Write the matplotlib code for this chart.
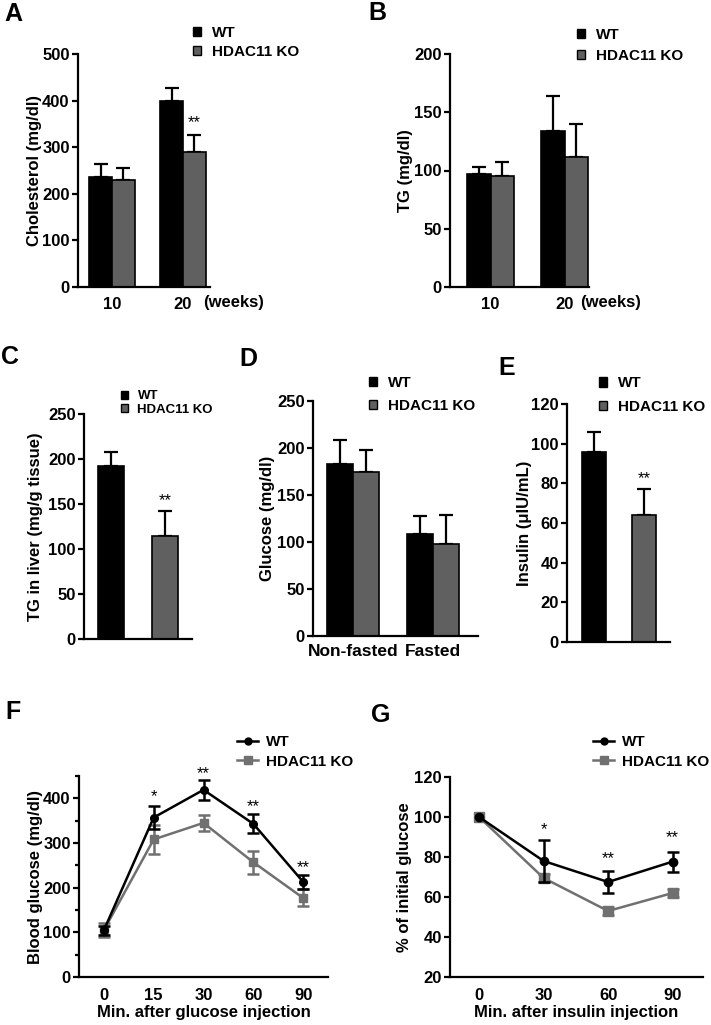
import matplotlib
matplotlib.use('Agg')
import numpy as np
import matplotlib.pyplot as plt
from matplotlib.patches import Patch
from matplotlib.lines import Line2D
from matplotlib.ticker import MultipleLocator

plt.rcParams['font.family'] = ['Liberation Sans', 'DejaVu Sans']
plt.rcParams['font.weight'] = 'bold'

# ---------------- data ----------------
series = ['WT', 'HDAC11 KO']
weeks = ['10', '20']
chol_wt = [236, 400]
chol_wt_err = [28, 28]
chol_ko = [230, 290]
chol_ko_err = [26, 37]

tg_wt = [97, 134]
tg_wt_err = [6, 30]
tg_ko = [95, 112]
tg_ko_err = [12, 28]

liver_tg = [192, 115]
liver_tg_err = [16, 27]

glucose_groups = ['Non-fasted', 'Fasted']
glu_wt = [183, 109]
glu_wt_err = [25, 19]
glu_ko = [174, 98]
glu_ko_err = [24, 31]

insulin = [96, 64]
insulin_err = [10, 13]

gtt_times = ['0', '15', '30', '60', '90']
gtt_wt = [105, 357, 419, 343, 213]
gtt_wt_err = [10, 26, 23, 21, 16]
gtt_ko = [105, 308, 345, 257, 177]
gtt_ko_err = [15, 32, 18, 26, 19]
gtt_stars = ['', '*', '**', '**', '**']
gtt_star_y = [0, 416, 469, 395, 259]

itt_times = ['0', '30', '60', '90']
itt_wt = [100, 78, 67.5, 77.7]
itt_wt_err = [0, 10.5, 5.5, 5]
itt_ko = [100, 69.5, 53, 62]
itt_ko_err = [0, 2, 2, 2]
itt_stars = ['', '*', '**', '**']
itt_star_y = [0, 96.6, 82.3, 92.8]

WT_C = 'black'
KO_BAR = '#606060'
KO_LINE = '#707070'

W, H = 711, 1025
fig = plt.figure(figsize=(W / 100, H / 100), dpi=100)


def add_ax(left, top, right, bottom):
    return fig.add_axes([left / W, 1 - bottom / H, (right - left) / W, (bottom - top) / H])


def style(ax):
    for s in ['top', 'right']:
        ax.spines[s].set_visible(False)
    for s in ['left', 'bottom']:
        ax.spines[s].set_linewidth(1.6)
    ax.tick_params(axis='y', width=1.6, length=4.5, labelsize=12, pad=1.5)
    ax.tick_params(axis='x', length=0, labelsize=12, pad=7)
    ax.patch.set_alpha(0)


def star(ax, x, y, s):
    ax.annotate(s, xy=(x, y), xytext=(0, -7.5), textcoords='offset points',
                ha='center', va='baseline', fontsize=12, fontweight='normal',
                annotation_clip=False)


def bar_legend(x_px, yc_px, fs=11, spacing=0.3):
    h = [Patch(facecolor=WT_C, edgecolor='black', linewidth=1.0),
         Patch(facecolor=KO_BAR, edgecolor='black', linewidth=1.0)]
    fig.legend(h, series, loc='center left', bbox_to_anchor=(x_px / W, 1 - yc_px / H),
               frameon=False, borderpad=0, borderaxespad=0,
               handlelength=0.55, handleheight=0.55, handletextpad=0.7,
               labelspacing=spacing, prop={'weight': 'bold', 'size': fs})


def line_legend(x_px, yc_px, spacing=0.35):
    h = [Line2D([], [], color=WT_C, marker='o', markersize=5, lw=1.8),
         Line2D([], [], color=KO_LINE, marker='s', markersize=5.5, lw=1.8)]
    fig.legend(h, series, loc='center left', bbox_to_anchor=(x_px / W, 1 - yc_px / H),
               frameon=False, borderpad=0, borderaxespad=0,
               handlelength=1.4, handletextpad=0.5, labelspacing=spacing,
               prop={'weight': 'bold', 'size': 11})


def letter(x_px, y_px, s):
    fig.text(x_px / W, 1 - y_px / H, s, fontsize=18, fontweight='bold', ha='center', va='center')


def grouped_bars(ax, wt, wt_err, ko, ko_err, w):
    x = np.arange(len(wt))
    ax.bar(x - w / 2, wt, w, color=WT_C, edgecolor='black', linewidth=1.2, zorder=2)
    ax.bar(x + w / 2, ko, w, color=KO_BAR, edgecolor='black', linewidth=1.2, zorder=2)
    ax.errorbar(x - w / 2, wt, yerr=[np.zeros(len(wt)), wt_err], fmt='none', ecolor='black',
                elinewidth=1.6, capsize=5, capthick=1.6, zorder=1)
    ax.errorbar(x + w / 2, ko, yerr=[np.zeros(len(ko)), ko_err], fmt='none', ecolor='black',
                elinewidth=1.6, capsize=5, capthick=1.6, zorder=1)
    return x


# ---------------- A ----------------
ax = add_ax(78, 54, 210, 287)
style(ax)
w = 0.32
x = grouped_bars(ax, chol_wt, chol_wt_err, chol_ko, chol_ko_err, w)
ax.set_xlim(-0.48, 1.38)
ax.set_ylim(0, 500)
ax.yaxis.set_major_locator(MultipleLocator(100))
ax.set_xticks(x)
ax.set_xticklabels(weeks)
ax.set_ylabel('Cholesterol (mg/dl)', fontsize=12, fontweight='bold')
ax.yaxis.set_label_coords(-0.275, 0.5)
star(ax, 1 + w / 2, 366, '**')
fig.text(203 / W, 1 - 303 / H, '(weeks)', fontsize=12, fontweight='bold', ha='left', va='center')
bar_legend(193, 42.5, spacing=0.3)
letter(13, 14, 'A')

# ---------------- B ----------------
ax = add_ax(450, 54, 589, 287)
style(ax)
x = grouped_bars(ax, tg_wt, tg_wt_err, tg_ko, tg_ko_err, w)
ax.set_xlim(-0.55, 1.33)
ax.set_ylim(0, 200)
ax.yaxis.set_major_locator(MultipleLocator(50))
ax.set_xticks(x)
ax.set_xticklabels(weeks)
ax.set_ylabel('TG (mg/dl)', fontsize=12, fontweight='bold')
ax.yaxis.set_label_coords(-0.265, 0.5)
fig.text(580 / W, 1 - 303 / H, '(weeks)', fontsize=12, fontweight='bold', ha='left', va='center')
bar_legend(577, 45.5, spacing=0.45)
letter(377, 13, 'B')

# ---------------- C ----------------
ax = add_ax(84, 414, 192, 639)
style(ax)
xc = np.arange(2)
ax.bar(xc, liver_tg, 0.48, color=[WT_C, KO_BAR], edgecolor='black', linewidth=1.2, zorder=2)
ax.errorbar(xc, liver_tg, yerr=[np.zeros(2), liver_tg_err], fmt='none', ecolor='black',
            elinewidth=1.6, capsize=5, capthick=1.6, zorder=1)
ax.set_xlim(-0.5, 1.5)
ax.set_ylim(0, 250)
ax.yaxis.set_major_locator(MultipleLocator(50))
ax.set_xticks([])
ax.set_ylabel('TG in liver (mg/g tissue)', fontsize=12, fontweight='bold')
ax.yaxis.set_label_coords(-0.38, 0.5)
star(ax, 1, 160, '**')
bar_legend(121, 403, fs=9.5, spacing=0.1)
letter(10, 357, 'C')

# ---------------- D ----------------
ax = add_ax(313, 401, 478, 636)
style(ax)
wd = 0.325
x = grouped_bars(ax, glu_wt, glu_wt_err, glu_ko, glu_ko_err, wd)
ax.set_xlim(-0.5, 1.56)
ax.set_ylim(0, 250)
ax.yaxis.set_major_locator(MultipleLocator(50))
ax.set_xticks(x)
ax.set_xticklabels(glucose_groups, fontsize=12.5)
ax.tick_params(axis='x', pad=6)
ax.set_ylabel('Glucose (mg/dl)', fontsize=12, fontweight='bold')
ax.yaxis.set_label_coords(-0.23, 0.5)
bar_legend(369, 394.5, spacing=0.6)
letter(248, 359, 'D')

# ---------------- E ----------------
ax = add_ax(567, 404, 670, 642)
style(ax)
xe = np.arange(2)
ax.bar(xe, insulin, 0.48, color=[WT_C, KO_BAR], edgecolor='black', linewidth=1.2, zorder=2)
ax.errorbar(xe, insulin, yerr=[np.zeros(2), insulin_err], fmt='none', ecolor='black',
            elinewidth=1.6, capsize=5, capthick=1.6, zorder=1)
ax.set_xlim(-0.54, 1.52)
ax.set_ylim(0, 120)
ax.yaxis.set_major_locator(MultipleLocator(20))
ax.set_xticks([])
ax.set_ylabel('Insulin (\u03bcIU/mL)', fontsize=12, fontweight='bold')
ax.yaxis.set_label_coords(-0.34, 0.5)
star(ax, 1, 85.2, '**')
bar_legend(599, 395, spacing=0.6)
letter(507, 368, 'E')

# ---------------- F ----------------
ax = add_ax(79, 776, 328, 977)
style(ax)
xf = np.arange(len(gtt_times))
ax.errorbar(xf, gtt_ko, yerr=gtt_ko_err, color=KO_LINE, marker='s', markersize=6, lw=1.8,
            elinewidth=1.8, capsize=4, capthick=1.8, zorder=2)
ax.errorbar(xf, gtt_wt, yerr=gtt_wt_err, color=WT_C, marker='o', markersize=5.5, lw=1.8,
            elinewidth=1.8, capsize=4, capthick=1.8, zorder=3)
ax.set_xlim(-0.5, 4.5)
ax.set_ylim(0, 450)
ax.yaxis.set_major_locator(MultipleLocator(100))
ax.yaxis.set_minor_locator(MultipleLocator(50))
ax.tick_params(axis='y', which='minor', width=1.6, length=3)
ax.set_xticks(xf)
ax.set_xticklabels(gtt_times)
ax.tick_params(axis='x', pad=8)
ax.set_xlabel('Min. after glucose injection', fontsize=12, fontweight='bold', labelpad=1)
ax.set_ylabel('Blood glucose (mg/dl)', fontsize=12, fontweight='bold')
ax.yaxis.set_label_coords(-0.145, 0.5)
for xi, s, yv in zip(xf, gtt_stars, gtt_star_y):
    if s:
        star(ax, xi, yv, s)
line_legend(237, 752)
letter(13, 712, 'F')

# ---------------- G ----------------
ax = add_ax(450, 777, 703, 977)
style(ax)
xg = np.arange(len(itt_times))
ax.errorbar(xg, itt_ko, yerr=itt_ko_err, color=KO_LINE, marker='s', markersize=7, lw=1.8,
            elinewidth=1.8, capsize=4, capthick=1.8, zorder=2, errorevery=(1, 1))
ax.errorbar(xg, itt_wt, yerr=itt_wt_err, color=WT_C, marker='o', markersize=6, lw=1.8,
            elinewidth=1.8, capsize=4, capthick=1.8, zorder=3, errorevery=(1, 1))
ax.set_xlim(-0.45, 3.47)
ax.set_ylim(20, 120)
ax.yaxis.set_major_locator(MultipleLocator(20))
ax.set_xticks(xg)
ax.set_xticklabels(itt_times)
ax.tick_params(axis='x', pad=8)
ax.set_xlabel('Min. after insulin injection', fontsize=12, fontweight='bold', labelpad=1)
ax.set_ylabel('% of initial glucose', fontsize=12, fontweight='bold')
ax.yaxis.set_label_coords(-0.15, 0.5)
for xi, s, yv in zip(xg, itt_stars, itt_star_y):
    if s:
        star(ax, xi, yv, s)
line_legend(593, 752)
letter(381, 715, 'G')

fig.savefig('out.png', dpi=100)
